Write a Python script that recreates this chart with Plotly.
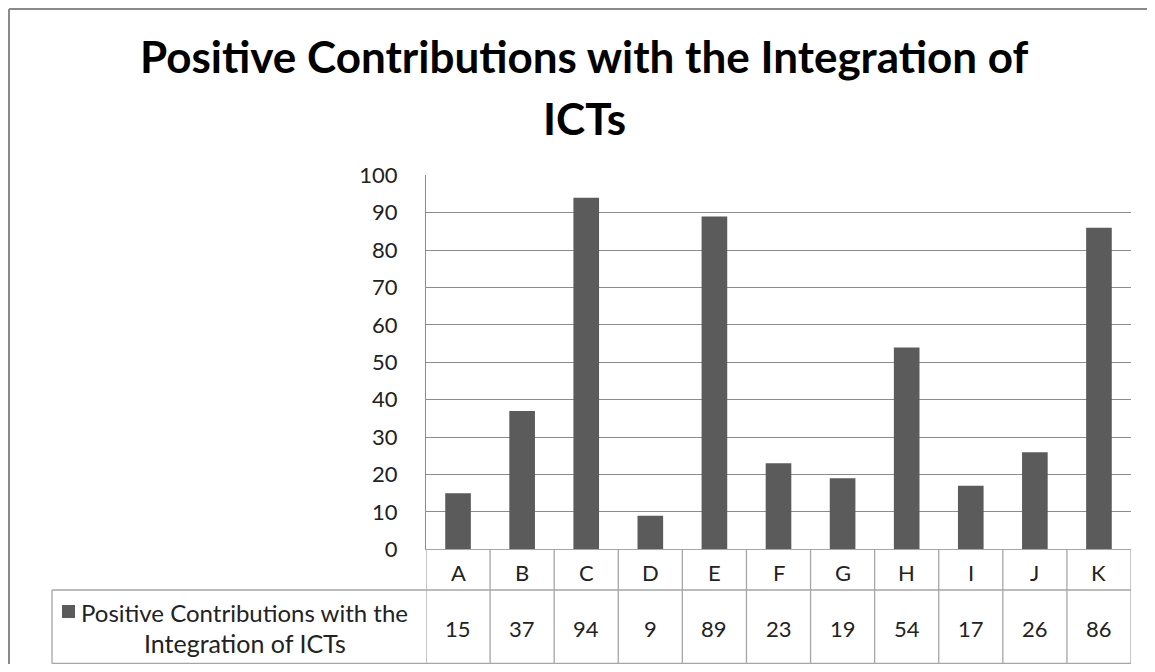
import plotly.graph_objects as go

categories = ["A", "B", "C", "D", "E", "F", "G", "H", "I", "J", "K"]
values = [15, 37, 94, 9, 89, 23, 19, 54, 17, 26, 86]
series_name = "Positive Contributions with the Integration of ICTs"
title_line1 = "Positive Contributions with the Integration of"
title_line2 = "ICTs"
legend_line1 = "Positive Contributions with the"
legend_line2 = "Integration of ICTs"

OFF = 8  # page body margin
W, H = 1155 - 2 * OFF, 672 - 2 * OFF
BAR = "#5b5b5b"
GRID = "#8c8c8c"
TBL = "#a6a6a6"
FONT = "Lato"
TXT = "#222222"


def px(x):
    return (x - OFF) / W


def py(y):
    return 1 - (y - OFF) / H


plot_l, plot_r, plot_t, plot_b = 426, 1131, 175.3, 549.4
row1_b, row2_b = 590, 663.5
legend_l = 52

fig = go.Figure()
fig.add_trace(go.Bar(x=list(range(len(categories))), y=values, marker_color=BAR,
                     marker_line_width=0, width=0.4, name=series_name, showlegend=False))

shapes = []
shapes.append(dict(type="line", xref="paper", yref="paper", x0=px(9), x1=px(1300), y0=py(9), y1=py(9),
                   line=dict(color="#8a8a8a", width=2)))
shapes.append(dict(type="line", xref="paper", yref="paper", x0=px(9), x1=px(9), y0=py(9), y1=py(800),
                   line=dict(color="#8a8a8a", width=2)))
for i in range(len(categories) + 1):
    shapes.append(dict(type="line", xref="x", yref="paper", x0=i - 0.5, x1=i - 0.5,
                       y0=py(plot_b), y1=py(row2_b), line=dict(color=TBL, width=1.3)))
for yy in (row1_b, row2_b):
    shapes.append(dict(type="line", xref="paper", yref="paper", x0=px(legend_l), x1=px(plot_r),
                       y0=py(yy), y1=py(yy), line=dict(color=TBL, width=1.3)))
shapes.append(dict(type="line", xref="paper", yref="paper", x0=px(legend_l), x1=px(legend_l),
                   y0=py(row1_b), y1=py(row2_b), line=dict(color=TBL, width=1.3)))
shapes.append(dict(type="rect", xref="paper", yref="paper", x0=px(62), x1=px(75),
                   y0=py(605), y1=py(618), fillcolor=BAR, line=dict(width=0)))

annotations = []
for txt, yy in ((title_line1, 56), (title_line2, 118)):
    annotations.append(dict(text="<b>" + txt + "</b>", xref="paper", yref="paper",
                            x=px(584), y=py(yy), showarrow=False, xanchor="center", yanchor="middle",
                            font=dict(family=FONT, size=44, color="#000000")))
for i, (c, v) in enumerate(zip(categories, values)):
    annotations.append(dict(text=c, xref="x", yref="paper", x=i, y=py(572), showarrow=False,
                            xanchor="center", yanchor="middle",
                            font=dict(family=FONT, size=22, color=TXT)))
    annotations.append(dict(text=str(v), xref="x", yref="paper", x=i, y=py(628), showarrow=False,
                            xanchor="center", yanchor="middle",
                            font=dict(family=FONT, size=22, color=TXT)))
annotations.append(dict(text=legend_line1, xref="paper", yref="paper", x=px(79), y=py(612.5),
                        showarrow=False, xanchor="left", yanchor="middle",
                        font=dict(family=FONT, size=24, color=TXT)))
annotations.append(dict(text=legend_line2, xref="paper", yref="paper", x=px(245), y=py(643),
                        showarrow=False, xanchor="center", yanchor="middle",
                        font=dict(family=FONT, size=25, color=TXT)))

fig.update_layout(
    width=W, height=H, autosize=False,
    margin=dict(l=0, r=0, t=0, b=0, pad=0, autoexpand=False),
    paper_bgcolor="white", plot_bgcolor="white",
    shapes=shapes, annotations=annotations,
    xaxis=dict(domain=[px(plot_l), px(plot_r)], range=[-0.5, len(categories) - 0.5],
               showticklabels=False, showgrid=False, zeroline=False, automargin=False,
               showline=True, linecolor=TBL, linewidth=1.3, ticks=""),
    yaxis=dict(domain=[py(plot_b), py(plot_t)], range=[0, 100], dtick=10,
               showgrid=True, gridcolor=GRID, gridwidth=1.3, zeroline=False, automargin=False,
               showline=True, linecolor=GRID, linewidth=1.3, ticks="",
               ticklabelstandoff=23,
               tickfont=dict(family=FONT, size=22, color=TXT)),
    bargap=0.6,
)

fig.write_html("out.html")
